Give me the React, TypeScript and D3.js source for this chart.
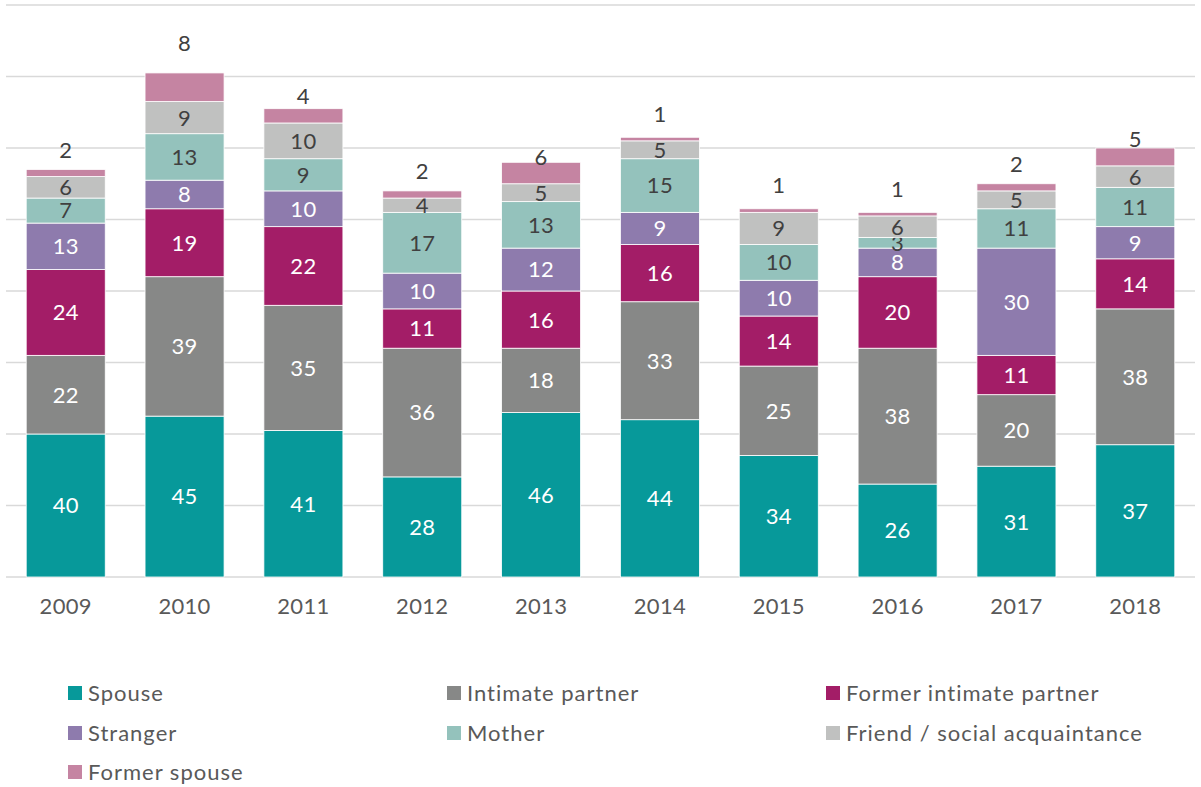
import React from "react";
import * as d3 from "d3";

const years = ["2009", "2010", "2011", "2012", "2013", "2014", "2015", "2016", "2017", "2018"];
const seriesNames = ["Spouse", "Intimate partner", "Former intimate partner", "Stranger", "Mother", "Friend / social acquaintance", "Former spouse"];
const spouse = [40, 45, 41, 28, 46, 44, 34, 26, 31, 37];
const intimatePartner = [22, 39, 35, 36, 18, 33, 25, 38, 20, 38];
const formerIntimatePartner = [24, 19, 22, 11, 16, 16, 14, 20, 11, 14];
const stranger = [13, 8, 10, 10, 12, 9, 10, 8, 30, 9];
const mother = [7, 13, 9, 17, 13, 15, 10, 3, 11, 11];
const friend = [6, 9, 10, 4, 5, 5, 9, 6, 5, 6];
const formerSpouse = [2, 8, 4, 2, 6, 1, 1, 1, 2, 5];
const yTicks = [0, 20, 40, 60, 80, 100, 120, 140, 160];

const colors = ["#07999A", "#878887", "#A31D67", "#8E7BAD", "#94C2BC", "#C0C1C0", "#C584A2"];
const labelColors = ["#fff", "#fff", "#fff", "#fff", "#404040", "#404040", "#404040"];

export default function App() {
  const W = 1201, H = 787;
  const left = 6, right = 1195, top = 5, bottom = 577;
  const values = [spouse, intimatePartner, formerIntimatePartner, stranger, mother, friend, formerSpouse];
  const rows = years.map((y, i) => {
    const r: any = { year: y };
    seriesNames.forEach((s, k) => (r[s] = values[k][i]));
    return r;
  });
  const stack = d3.stack<any>().keys(seriesNames)(rows);
  const x = d3.scaleBand().domain(years).range([left, right]).paddingInner(0.335).paddingOuter(0.17);
  const y = d3.scaleLinear().domain([0, 160]).range([bottom, top]);
  const font = "Lato, 'Open Sans', sans-serif";

  const legendCols = [68, 447, 826];
  const legendRows = [693, 733, 772];

  return (
    <svg width={W} height={H} style={{ position: "absolute", left: 0, top: 0 }} fontFamily={font}>
      <rect width={W} height={H} fill="#fff" />
      {yTicks.map((t) => (
        <line key={t} x1={left} x2={right} y1={y(t)} y2={y(t)} stroke="#D9D9D9" strokeWidth={1.5} />
      ))}
      {stack.map((layer, k) => (
        <g key={layer.key}>
          {layer.map((d, i) => {
            const x0 = x(years[i])!;
            const y0 = y(d[1]);
            const yb = y(d[0]);
            const h = yb - y0;
            const v = d[1] - d[0];
            const isTop = k === seriesNames.length - 1;
            let ly = y0 + h / 2;
            if (isTop) {
              ly = yb - 27;
              if (ly > y0 - 2) ly = y0 - 30;
            }
            return (
              <g key={i}>
                <rect x={x0} y={y0} width={x.bandwidth()} height={h} fill={colors[k]} stroke="#fff" strokeWidth={0.8} />
                <text
                  x={x0 + x.bandwidth() / 2}
                  y={ly}
                  dy="0.36em"
                  textAnchor="middle"
                  fontSize={22}
                  letterSpacing={0.3}
                  fill={labelColors[k]}
                >
                  {v}
                </text>
              </g>
            );
          })}
        </g>
      ))}
      {years.map((yr) => (
        <text key={yr} x={x(yr)! + x.bandwidth() / 2} y={606} dy="0.36em" textAnchor="middle" fontSize={22} letterSpacing={0.3} fill="#595959">
          {yr}
        </text>
      ))}
      {seriesNames.map((s, k) => {
        const cx = legendCols[k % 3];
        const cy = legendRows[Math.floor(k / 3)];
        return (
          <g key={s}>
            <rect x={cx} y={cy - 7} width={14} height={14} fill={colors[k]} />
            <text x={cx + 20} y={cy} dy="0.36em" fontSize={22} letterSpacing={1} fill="#595959">
              {s}
            </text>
          </g>
        );
      })}
    </svg>
  );
}
